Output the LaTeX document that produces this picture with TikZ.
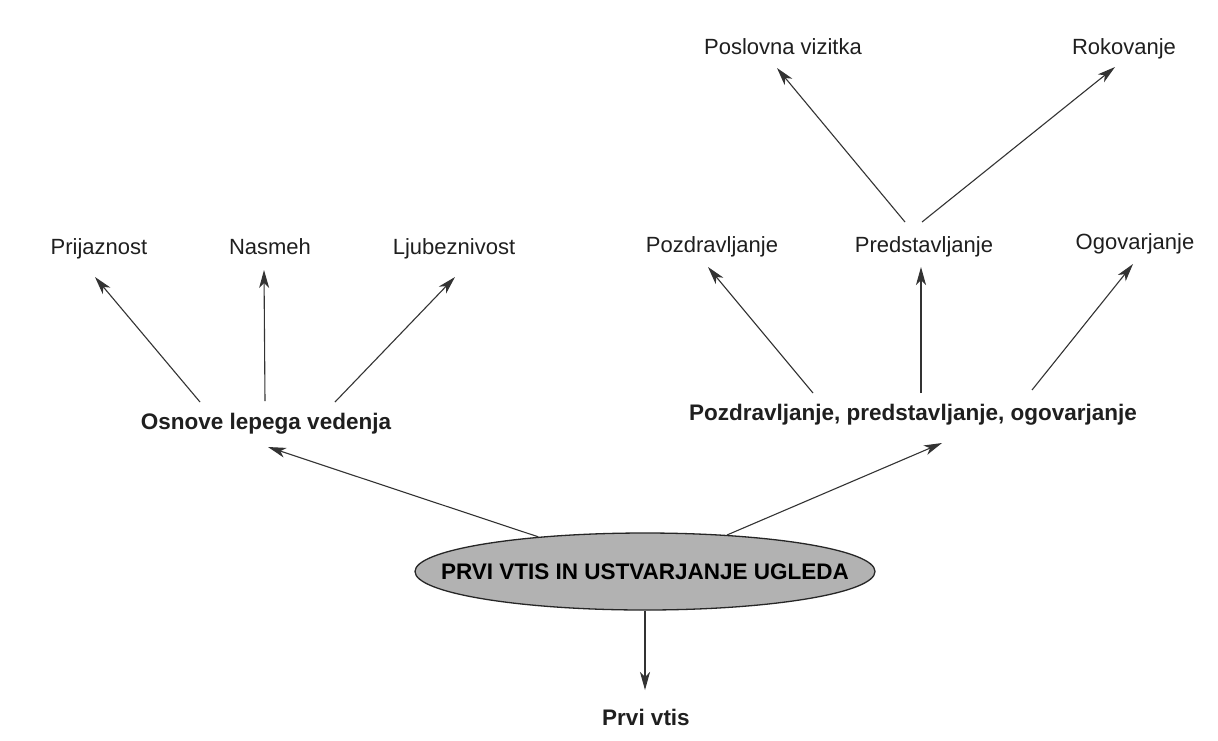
\documentclass[tikz,border=0pt]{standalone}
\usepackage{fontspec}
\setmainfont{Liberation Sans}
\usetikzlibrary{arrows.meta,calc,shapes.geometric}
\tikzset{
  lbl/.style={inner sep=0pt, text height=16pt, text depth=5pt, font=\fontsize{22}{26}\selectfont, text=black!88},
  blbl/.style={lbl, font=\fontsize{22.5}{26}\selectfont\bfseries},
  conn/.style={draw=black!80, line width=1.1pt, -{Stealth[length=18pt,width=10pt,inset=5pt]}},
  mainell/.style={ellipse, draw=black!85, line width=1.3pt, fill=black!30, inner sep=0pt, minimum width=460pt, minimum height=77pt},
  elltext/.style={inner sep=0pt, font=\fontsize{22.5}{26}\selectfont\bfseries, text=black}
}
\begin{document}
\begin{tikzpicture}[x=1pt,y=-1pt]
\useasboundingbox[fill=white] (0,0) rectangle (1218,740);
% nodes
\node[lbl] (posl) at (783,49) {Poslovna vizitka};
\node[lbl] (rok) at (1124,49) {Rokovanje};
\node[lbl] (prij) at (99,249) {Prijaznost};
\node[lbl] (nasm) at (270,249) {Nasmeh};
\node[lbl] (ljub) at (454,249) {Ljubeznivost};
\node[lbl] (pozd) at (712,247) {Pozdravljanje};
\node[lbl] (pred) at (924,247) {Predstavljanje};
\node[lbl] (ogov) at (1135,244) {Ogovarjanje};
\node[blbl] (osnove) at (266,424) {Osnove lepega vedenja};
\node[blbl] (ppo) at (913,415) {Pozdravljanje, predstavljanje, ogovarjanje};
\node[mainell] (main) at (645,571.5) {};
\node[elltext] (maintext) at (main.center) {PRVI VTIS IN USTVARJANJE UGLEDA};
\node[blbl] (prvi) at (646,720) {Prvi vtis};
% connectors
\draw[conn] ($(osnove)+(-66,-22)$) -- ($(prij)+(-4,28)$);
\draw[conn] ($(osnove)+(-1,-23)$) -- ($(nasm)+(-6,21)$);
\draw[conn] ($(osnove)+(69,-22)$) -- ($(ljub)+(1,28)$);
\draw[conn] ($(ppo)+(-100,-22)$) -- ($(pozd)+(-4,20)$);
\draw[conn] ($(ppo)+(8,-22)$) -- ($(pred)+(-3,20)$);
\draw[conn] ($(ppo)+(119,-25)$) -- ($(ogov)+(-2,20)$);
\draw[conn] ($(pred)+(-19,-25)$) -- ($(posl)+(-6,19)$);
\draw[conn] ($(pred)+(-2,-25)$) -- ($(rok)+(-9,18)$);
\draw[conn] (main.162) -- ($(osnove)+(2,23)$);
\draw[conn] (main.24) -- ($(ppo)+(29,28)$);
\draw[conn] (main.south) -- ($(prvi)+(-1,-30)$);
\end{tikzpicture}
\end{document}
